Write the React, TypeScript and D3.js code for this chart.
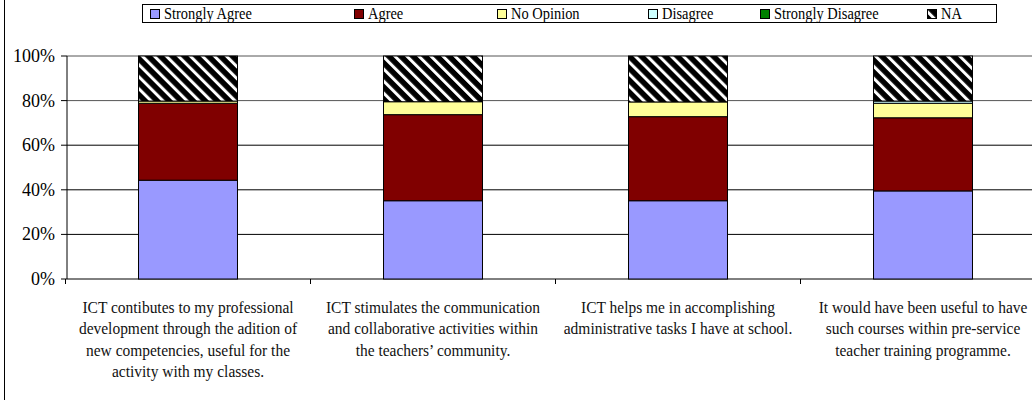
import React from "react";
import * as d3 from "d3";

const categories = [
  "ICT contibutes to my professional development through the adition of new competencies, useful for the activity with my classes.",
  "ICT stimulates the communication and collaborative activities within the teachers’ community.",
  "ICT helps me in accomplishing administrative tasks I have at school.",
  "It would have been useful to have such courses within pre-service teacher training programme.",
];
const categoryLines = [
  ["ICT contibutes to my professional", "development through the adition of", "new competencies, useful for the", "activity with my classes."],
  ["ICT stimulates the communication", "and collaborative activities within", "the teachers’ community."],
  ["ICT helps me in accomplishing", "administrative tasks I have at school."],
  ["It would have been useful to have", "such courses within pre-service", "teacher training programme."],
];
const seriesNames = ["Strongly Agree", "Agree", "No Opinion", "Disagree", "Strongly Disagree", "NA"];
const stronglyAgree = [44.3, 35.1, 35.1, 39.5];
const agree = [34.5, 38.6, 37.7, 32.8];
const noOpinion = [1.0, 5.8, 6.6, 6.5];
const disagree = [0, 0, 0, 1.0];
const stronglyDisagree = [0, 0, 0, 0];
const na = [20.2, 20.5, 20.6, 20.2];
const yTicks = [0, 20, 40, 60, 80, 100];

const colors = ["#9999FF", "#800000", "#FFFF99", "#CCFFFF", "#008000", "url(#hatch)"];

const W = 1032;
const H = 400;
const FONT = "Liberation Serif, Times New Roman, DejaVu Serif, serif";

export default function App() {
  const x = d3.scaleBand<string>().domain(categories).range([65.5, 1045.5]).paddingInner(0.596).paddingOuter(0.298);
  const y = d3.scaleLinear().domain([0, 100]).range([279, 56]);
  const table = categories.map((c, i) => ({
    cat: c,
    [seriesNames[0]]: stronglyAgree[i],
    [seriesNames[1]]: agree[i],
    [seriesNames[2]]: noOpinion[i],
    [seriesNames[3]]: disagree[i],
    [seriesNames[4]]: stronglyDisagree[i],
    [seriesNames[5]]: na[i],
  }));
  const stack = d3.stack<any>().keys(seriesNames)(table);
  const step = x.step();
  const legendX = [150, 354, 497, 648, 760, 927];

  return (
    <svg width={W} height={H} style={{ position: "absolute", left: 0, top: 0, background: "#fff", fontFamily: FONT }}>
      <defs>
        <pattern id="hatch" patternUnits="userSpaceOnUse" width={8.5} height={8.5} patternTransform="rotate(-45)">
          <rect x={0} y={0} width={8.5} height={8.5} fill="#000" />
          <rect x={0} y={0} width={3} height={8.5} fill="#fff" />
        </pattern>
      </defs>
      <rect x={0} y={0} width={W} height={H} fill="#fff" />
      {/* outer frame */}
      <line x1={4.5} y1={0} x2={4.5} y2={H} stroke="#000" strokeWidth={1} />
      {/* gridlines */}
      {yTicks.map((t) => (
        <line key={t} x1={67} x2={1046} y1={y(t)} y2={y(t)} stroke={t >= 80 ? "#555" : "#000"} strokeWidth={1} />
      ))}
      {/* y axis */}
      <line x1={67} x2={67} y1={y(100)} y2={y(0)} stroke="#000" />
      {yTicks.map((t) => (
        <g key={"yt" + t}>
          <line x1={61} x2={67} y1={y(t)} y2={y(t)} stroke="#000" />
          <text x={55} y={y(t) + 6} textAnchor="end" fontSize={18} style={{ fontFamily: FONT }}>
            {t}%
          </text>
        </g>
      ))}
      {/* x category ticks */}
      {categories.map((c, i) => (
        <line key={"xt" + i} x1={(x(c) as number) - (step - x.bandwidth()) / 2} x2={(x(c) as number) - (step - x.bandwidth()) / 2} y1={y(0)} y2={y(0) + 5} stroke="#000" />
      ))}
      {/* bars */}
      {stack.map((s, si) => (
        <g key={s.key}>
          {s.map((d, i) =>
            d[1] - d[0] > 0 ? (
              <rect key={i} x={x(categories[i])} width={x.bandwidth()} y={y(d[1])} height={y(d[0]) - y(d[1])} fill={colors[si]} stroke="#000" strokeWidth={1} />
            ) : null
          )}
        </g>
      ))}
      {/* category labels */}
      {categories.map((c, i) => (
        <g key={"cl" + i} transform={`translate(${(x(c) as number) + x.bandwidth() / 2},0) scale(0.91,1)`}>
          <text textAnchor="middle" fontSize={17} style={{ fontFamily: FONT }} fill="#111">
            {categoryLines[i].map((ln, j) => (
              <tspan key={j} x={0} y={313 + j * 21.3}>
                {ln}
              </tspan>
            ))}
          </text>
        </g>
      ))}
      {/* legend */}
      <rect x={142.5} y={4.5} width={854} height={18} fill="#fff" stroke="#000" />
      {seriesNames.map((n, i) => (
        <g key={n}>
          <rect x={legendX[i] + 0.5} y={9.5} width={9} height={9} fill={colors[i]} stroke="#000" />
          <g transform={`translate(${legendX[i] + 14},0) scale(0.85,1)`}>
            <text x={0} y={19.5} fontSize={17} style={{ fontFamily: FONT }}>
              {n}
            </text>
          </g>
        </g>
      ))}
    </svg>
  );
}
